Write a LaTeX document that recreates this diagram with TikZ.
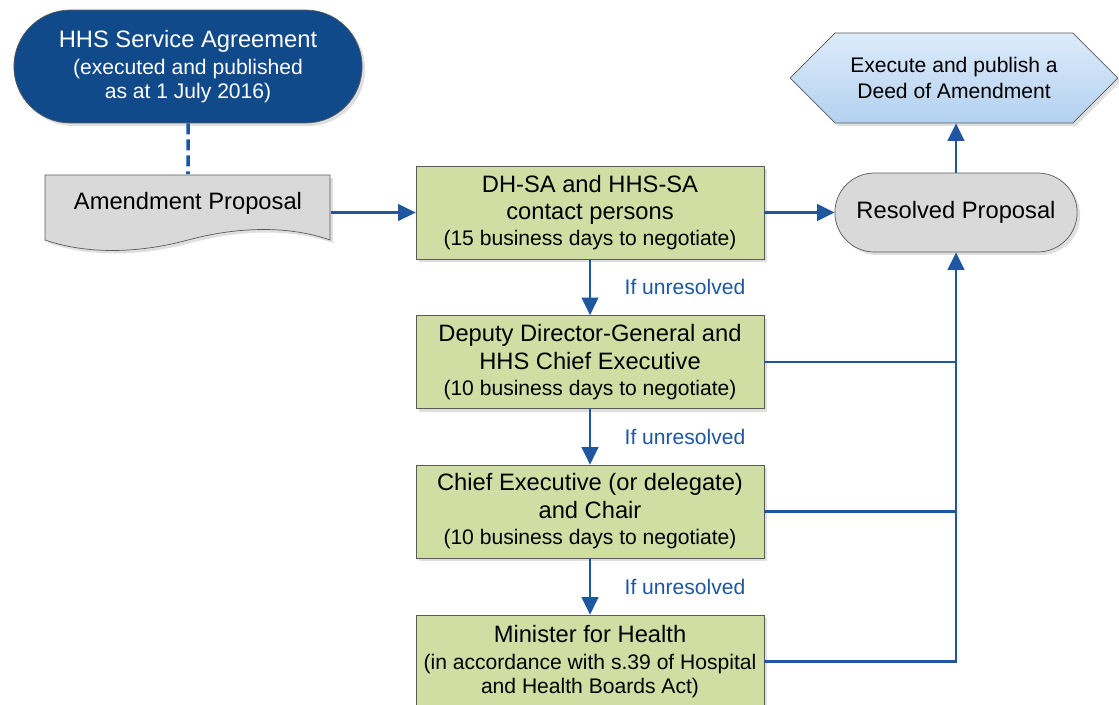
\documentclass[tikz,border=0pt]{standalone}
\usepackage{fontspec}
\setmainfont{Liberation Sans}
\usetikzlibrary{arrows.meta,shapes.misc,shapes.symbols,shadows,positioning}
\definecolor{hhsblue}{HTML}{114A8B}
\definecolor{linkblue}{HTML}{1F56A0}
\definecolor{stagegreen}{HTML}{D0DEA4}
\definecolor{propgray}{HTML}{D9D9D9}
\definecolor{deedtop}{HTML}{DDEBFA}
\definecolor{deedbottom}{HTML}{B3D1F0}
\definecolor{edgegray}{HTML}{5A5A5A}
\newcommand{\smalltext}[1]{{\fontsize{12}{14}\selectfont #1}}
\tikzset{
  shade box/.style={drop shadow={opacity=0.25,shadow xshift=0.06cm,shadow yshift=-0.06cm}},
  stage/.style={rectangle, draw=edgegray, fill=stagegreen, shade box,
    minimum width=6.96cm, minimum height=1.86cm, align=center, inner sep=0pt},
  terminal/.style={rounded rectangle, draw=edgegray, shade box, align=center},
  link/.style={draw=linkblue, line width=1.5pt, -{Triangle[length=0.35cm,width=0.33cm]}},
  joint/.style={draw=linkblue, line width=1.5pt},
  note/.style={text=linkblue, font=\fontsize{12}{14}\selectfont, anchor=west, xshift=0.55cm},
}
\begin{document}
\begin{tikzpicture}[x=0.02cm,y=-0.02cm,
    every node/.append style={font=\fontsize{13.5}{16}\selectfont}]
  \useasboundingbox (0,0) rectangle (1119,704);
  % document shape behind the proposal text
  \filldraw[draw=edgegray, fill=propgray, shade box]
    (45,175) -- (330,175) -- (330,240)
    .. controls (290,226) and (240,226) .. (188,240)
    .. controls (136,254) and (86,254) .. (45,240) -- cycle;
  \node[terminal, fill=hhsblue, text=white, minimum width=7.2cm, minimum height=2.26cm]
    (agreement) at (188,66.5) {HHS Service Agreement\\[-0.6pt] \smalltext{(executed and published}\\[-2.3pt] \smalltext{as at 1 July 2016)}};
  \node[minimum width=5.7cm, minimum height=1.34cm, text depth=8.6pt]
    (proposal) at (188,208) {Amendment Proposal};
  \node[stage] (contact) at (590,212.5)
    {DH-SA and HHS-SA\\[-0.6pt] contact persons\\[-1.6pt] \smalltext{(15 business days to negotiate)}};
  \node[stage] (deputy) at (590,362)
    {Deputy Director-General and\\ HHS Chief Executive\\[-1.2pt] \smalltext{(10 business days to negotiate)}};
  \node[stage] (chief) at (590,511.5)
    {Chief Executive (or delegate)\\ and Chair\\[-1.2pt] \smalltext{(10 business days to negotiate)}};
  \node[stage] (minister) at (590,661.5)
    {Minister for Health\\[-0.6pt] \smalltext{(in accordance with s.39 of Hospital}\\[-2.3pt] \smalltext{and Health Boards Act)}};
  \node[terminal, fill=propgray, minimum width=5.08cm, minimum height=1.58cm]
    (resolved) at (956,212.5) {Resolved Proposal};
  \node[signal, signal to=east and west, draw=edgegray, top color=deedtop, bottom color=deedbottom,
    shade box, minimum width=6.56cm, minimum height=1.8cm, align=center, inner xsep=0pt,
    font=\fontsize{12}{14.8}\selectfont]
    (deed) at (954,78) {Execute and publish a\\ Deed of Amendment};

  \draw[joint, line width=2pt, dash pattern=on 0.22cm off 0.1cm] (agreement) to (proposal);
  \begin{scope}[link]
    \draw (proposal.east |- contact.west) to (contact.west);
    \draw (contact) to (resolved);
    \draw (resolved.north) to (resolved.north |- deed.south);
    \draw (contact) to node[note, midway] {If unresolved} (deputy);
    \draw (deputy) to node[note, midway] {If unresolved} (chief);
    \draw (chief) to node[note, midway] {If unresolved} (minister);
    \draw (minister.east) -| (resolved.south);
  \end{scope}
  \draw[joint] (deputy.east) -- (deputy.east -| resolved.south);
  \draw[joint] (chief.east) -- (chief.east -| resolved.south);
\end{tikzpicture}
\end{document}
